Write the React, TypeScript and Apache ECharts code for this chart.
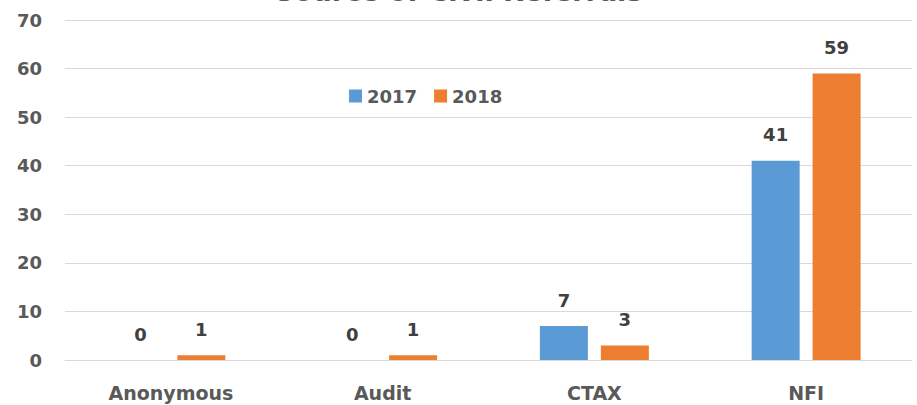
import React, { useEffect, useRef } from "react";
import * as echarts from "echarts";

const title = "Source of Civil Referrals";
const categories = ["Anonymous", "Audit", "CTAX", "NFI"];
const seriesNames = ["2017", "2018"];
const values2017 = [0, 0, 7, 41];
const values2018 = [1, 1, 3, 59];
const colors = ["#5B9BD5", "#ED7D31"];

export default function App() {
  const ref = useRef<HTMLDivElement>(null);
  useEffect(() => {
    document.body.style.margin = "0";
    document.body.style.overflow = "hidden";
    if (!ref.current) return;
    const chart = echarts.init(ref.current, null, { renderer: "svg" });
    const font = "'DejaVu Sans', Verdana, sans-serif";
    const label = {
      show: true,
      position: "top",
      distance: 17,
      color: "#404040",
      fontWeight: "bold",
      fontSize: 18,
      fontFamily: font,
    };
    chart.setOption({
      animation: false,
      title: {
        text: title,
        left: "center",
        top: -27,
        textStyle: { fontSize: 27, fontWeight: "bold", color: "#595959", fontFamily: font },
      },
      legend: {
        data: seriesNames,
        left: 344,
        top: 82,
        itemWidth: 13,
        itemHeight: 13,
        itemGap: 17,
        icon: "rect",
        textStyle: { fontSize: 18, fontWeight: "bold", color: "#595959", fontFamily: font },
      },
      grid: { left: 65, right: 5, top: 20, bottom: 45, containLabel: false },
      xAxis: {
        type: "category",
        data: categories,
        axisTick: { show: false },
        axisLine: { lineStyle: { color: "#D9D9D9" } },
        axisLabel: { color: "#595959", fontWeight: "bold", fontSize: 19, fontFamily: font, margin: 23 },
      },
      yAxis: {
        type: "value",
        min: 0,
        max: 70,
        interval: 10,
        axisLine: { show: false },
        axisTick: { show: false },
        splitLine: { lineStyle: { color: "#D9D9D9" } },
        axisLabel: { color: "#595959", fontWeight: "bold", fontSize: 18, fontFamily: font, margin: 23 },
      },
      series: [
        {
          name: seriesNames[0],
          type: "bar",
          data: values2017,
          itemStyle: { color: colors[0] },
          barWidth: 48,
          barGap: "27%",
          label,
        },
        {
          name: seriesNames[1],
          type: "bar",
          data: values2018,
          itemStyle: { color: colors[1] },
          barWidth: 48,
          label,
        },
      ],
    });
    return () => chart.dispose();
  }, []);
  return (
    <div
      ref={ref}
      style={{ position: "absolute", left: 0, top: 0, width: 917, height: 405 }}
    />
  );
}
